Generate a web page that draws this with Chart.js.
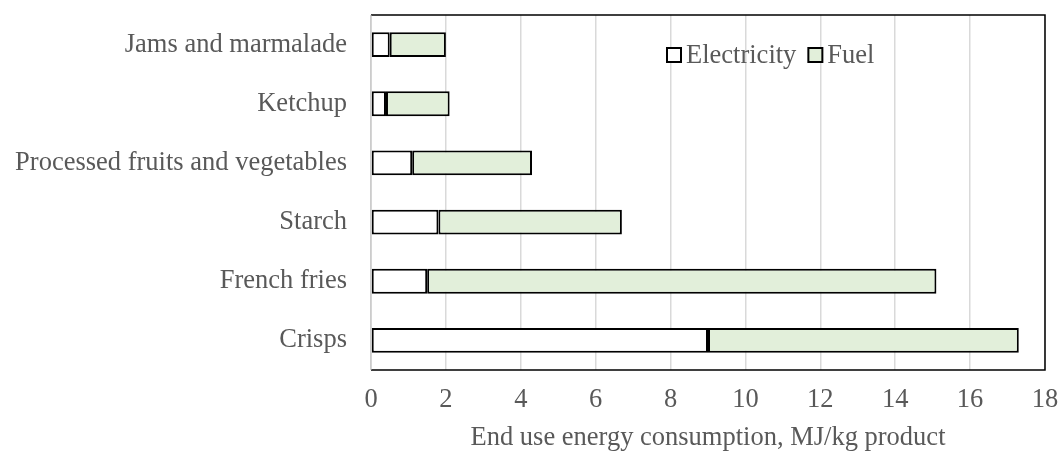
<!DOCTYPE html>
<html lang="en">
<head>
    <meta charset="UTF-8" />
    <title>End use energy consumption</title>
    <style>
        body { margin: 0; background: #fff; }
        .chart-box { width: 1059px; height: 454px; position: relative; }
    </style>
</head>
<body>
    <div class="chart-box">
        <canvas id="energyChart"></canvas>
    </div>

    <script src="https://cdn.jsdelivr.net/npm/chart.js@4"></script>
    <script>
        // values, MJ/kg product
        const categories = ['Jams and marmalade', 'Ketchup', 'Processed fruits and vegetables', 'Starch', 'French fries', 'Crisps'];
        const electricity = [0.5, 0.4, 1.1, 1.8, 1.5, 9.0];
        const fuel = [1.5, 1.7, 3.2, 4.9, 13.6, 8.3];
        const xTicks = [0, 2, 4, 6, 8, 10, 12, 14, 16, 18];

        const font = { family: "'Liberation Serif', 'Times New Roman', serif", size: 26.5 };
        const textColor = '#595959';

        // black box around the plot, gray axis line on the left
        const plotBox = {
            id: 'plotBox',
            afterDatasetsDraw(chart) {
                const { ctx, chartArea: a } = chart;
                ctx.save();
                ctx.strokeStyle = '#000';
                ctx.lineWidth = 1.5;
                ctx.beginPath();
                ctx.moveTo(a.left, a.top);
                ctx.lineTo(a.right, a.top);
                ctx.lineTo(a.right, a.bottom);
                ctx.lineTo(a.left, a.bottom);
                ctx.stroke();
                ctx.strokeStyle = '#bfbfbf';
                ctx.lineWidth = 1;
                ctx.beginPath();
                ctx.moveTo(a.left, a.top);
                ctx.lineTo(a.left, a.bottom);
                ctx.stroke();
                ctx.restore();
            }
        };

        // legend sits inside the plot, top right
        const innerLegend = {
            id: 'innerLegend',
            afterDraw(chart) {
                const { ctx } = chart;
                let x = 667;
                const y = 55;
                ctx.save();
                ctx.font = font.size + 'px ' + font.family;
                ctx.textBaseline = 'middle';
                chart.data.datasets.forEach(ds => {
                    ctx.fillStyle = ds.backgroundColor;
                    ctx.fillRect(x, y - 7, 14, 14);
                    ctx.strokeStyle = '#000';
                    ctx.lineWidth = 2;
                    ctx.strokeRect(x, y - 7, 14, 14);
                    ctx.fillStyle = textColor;
                    ctx.fillText(ds.label, x + 19, y + 1);
                    x += 19 + ctx.measureText(ds.label).width + 12;
                });
                ctx.restore();
            }
        };

        new Chart(document.getElementById('energyChart'), {
            type: 'bar',
            data: {
                labels: categories,
                datasets: [{
                    label: 'Electricity',
                    data: electricity,
                    backgroundColor: '#ffffff',
                    borderColor: '#000000',
                    borderWidth: 2,
                    borderSkipped: false
                }, {
                    label: 'Fuel',
                    data: fuel,
                    backgroundColor: '#e2efda',
                    borderColor: '#000000',
                    borderWidth: 2,
                    borderSkipped: false
                }]
            },
            options: {
                indexAxis: 'y',
                responsive: true,
                maintainAspectRatio: false,
                animation: false,
                categoryPercentage: 0.5,
                barPercentage: 0.84,
                layout: { padding: { top: 15, right: 14, left: 0, bottom: 0 } },
                plugins: {
                    legend: { display: false },
                    tooltip: { enabled: false }
                },
                scales: {
                    x: {
                        stacked: true,
                        min: 0,
                        max: 18,
                        afterBuildTicks: scale => { scale.ticks = xTicks.map(v => ({ value: v })); },
                        afterFit: scale => {
                            scale.height = 84;
                            scale.paddingLeft = 0;
                            scale.paddingRight = 0;
                        },
                        grid: { color: '#d9d9d9', lineWidth: 1.5, drawTicks: false },
                        border: { display: false },
                        ticks: { font: font, color: textColor, padding: 14 },
                        title: {
                            display: true,
                            text: 'End use energy consumption, MJ/kg product',
                            font: font,
                            color: textColor,
                            padding: { top: 4, bottom: 0 }
                        }
                    },
                    y: {
                        stacked: true,
                        afterFit: scale => {
                            scale.width = 371;
                            scale.paddingTop = 0;
                            scale.paddingBottom = 0;
                        },
                        grid: { display: false, drawTicks: false },
                        border: { display: false },
                        ticks: { font: font, color: textColor, padding: 24 }
                    }
                }
            },
            plugins: [plotBox, innerLegend]
        });
    </script>
</body>
</html>
